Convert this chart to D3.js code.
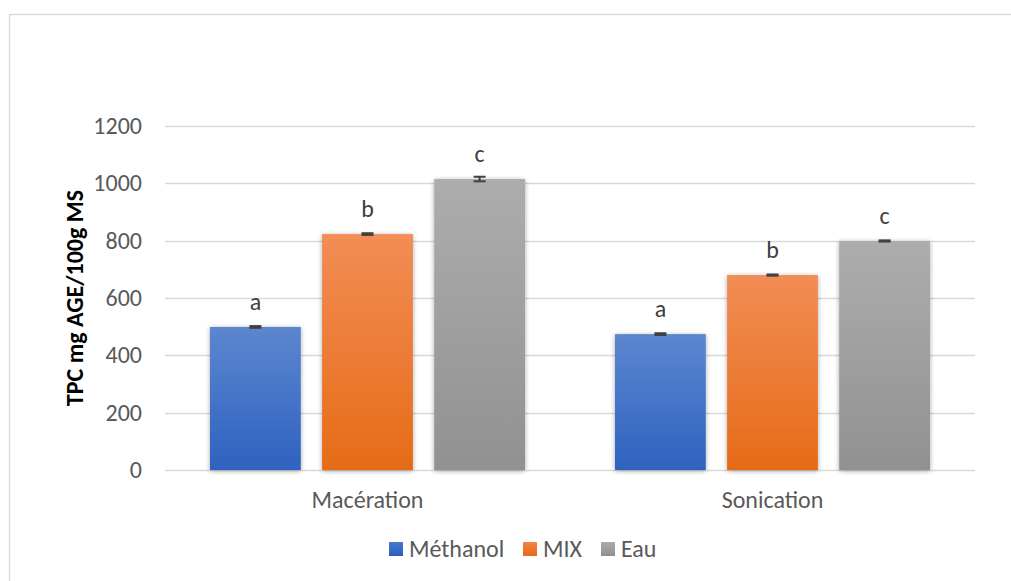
<!DOCTYPE html>
<html>
<head>
<meta charset="utf-8">
<script src="https://cdn.jsdelivr.net/npm/d3@7/dist/d3.min.js"></script>
<style>
html,body{margin:0;padding:0;background:#fff;}
svg{display:block;font-family:Calibri,Carlito,"Open Sans","Liberation Sans",sans-serif;}
</style>
</head>
<body>
<svg id="chart" width="1011" height="581"></svg>
<script>
const categories = ["Macération", "Sonication"];
const seriesNames = ["Méthanol", "MIX", "Eau"];
const methanolValues = [499, 474];
const mixValues = [823, 680];
const eauValues = [1015, 799];
const methanolErrors = [3, 3];
const mixErrors = [3, 2];
const eauErrors = [8, 2];
const letters = [["a", "a"], ["b", "b"], ["c", "c"]];
const yTicks = [0, 200, 400, 600, 800, 1000, 1200];
const yTitle = "TPC mg AGE/100g MS";

(function () {
const values = [methanolValues, mixValues, eauValues];
const errors = [methanolErrors, mixErrors, eauErrors];
const gradients = [["#5c86d0", "#2f62bf"], ["#f28d55", "#e66b17"], ["#adadad", "#919191"]];
const legendColors = [["#4a78cc", "#2c5fbd"], ["#f2854a", "#e56a16"], ["#ababab", "#8f8f8f"]];
const FS = 24;

const svg = d3.select("#chart");
const defs = svg.append("defs");
gradients.forEach((g, i) => {
  const lg = defs.append("linearGradient").attr("id", "grad" + i)
    .attr("x1", 0).attr("y1", 0).attr("x2", 0).attr("y2", 1);
  lg.append("stop").attr("offset", "0%").attr("stop-color", g[0]);
  lg.append("stop").attr("offset", "100%").attr("stop-color", g[1]);
  const lg2 = defs.append("linearGradient").attr("id", "lgrad" + i)
    .attr("x1", 0).attr("y1", 0).attr("x2", 0).attr("y2", 1);
  lg2.append("stop").attr("offset", "0%").attr("stop-color", legendColors[i][0]);
  lg2.append("stop").attr("offset", "100%").attr("stop-color", legendColors[i][1]);
});
const f = defs.append("filter").attr("id", "shadow")
  .attr("x", "-20%").attr("y", "-10%").attr("width", "140%").attr("height", "125%");
f.append("feGaussianBlur").attr("in", "SourceAlpha").attr("stdDeviation", 2.5).attr("result", "b");
f.append("feOffset").attr("in", "b").attr("dx", 0).attr("dy", 1).attr("result", "o");
f.append("feComponentTransfer").attr("in", "o").attr("result", "t")
  .append("feFuncA").attr("type", "linear").attr("slope", 0.35);
const fm = f.append("feMerge");
fm.append("feMergeNode").attr("in", "t");
fm.append("feMergeNode").attr("in", "SourceGraphic");

// chart border
svg.append("path").attr("d", "M9.5,600 L9.5,14.5 L1020,14.5")
  .attr("fill", "none").attr("stroke", "#d9d9d9").attr("stroke-width", 1.3);

const pLeft = 165, pRight = 975, pTop = 126, pBottom = 470;
const y = d3.scaleLinear().domain([0, 1200]).range([pBottom, pTop]);
const x0 = d3.scaleBand().domain(categories).range([pLeft, pRight]).paddingInner(0).paddingOuter(0);
const x1 = d3.scaleBand().domain(seriesNames).range([45, x0.bandwidth() - 45]).paddingInner(0.19).paddingOuter(0);

// gridlines
svg.append("g").selectAll("line").data(yTicks).join("line")
  .attr("x1", pLeft).attr("x2", pRight)
  .attr("y1", d => Math.round(y(d)) + 0.5).attr("y2", d => Math.round(y(d)) + 0.5)
  .attr("stroke", "#d9d9d9").attr("stroke-width", 1.3);

// y tick labels
svg.append("g").selectAll("text").data(yTicks).join("text")
  .attr("x", 142).attr("y", d => y(d)).attr("dy", "0.33em")
  .attr("text-anchor", "end").attr("fill", "#595959").attr("font-size", FS)
  .text(d => d);

// y title
svg.append("text").attr("transform", `translate(83,298) rotate(-90)`)
  .attr("text-anchor", "middle").attr("font-size", FS).attr("font-weight", "bold")
  .attr("fill", "#000").text(yTitle);

// bars
seriesNames.forEach((s, si) => {
  const g = svg.append("g");
  categories.forEach((c, ci) => {
    const bx = x0(c) + x1(s);
    const v = values[si][ci];
    g.append("rect").attr("x", bx).attr("y", y(v)).attr("width", x1.bandwidth())
      .attr("height", y(0) - y(v)).attr("fill", `url(#grad${si})`).attr("filter", "url(#shadow)");
  });
});
// error bars & letters
seriesNames.forEach((s, si) => {
  categories.forEach((c, ci) => {
    const cx = x0(c) + x1(s) + x1.bandwidth() / 2;
    const v = values[si][ci], e = errors[si][ci];
    const eb = svg.append("g").attr("stroke", "#404040").attr("stroke-width", 2);
    eb.append("line").attr("x1", cx - 6).attr("x2", cx + 6).attr("y1", y(v + e)).attr("y2", y(v + e));
    eb.append("line").attr("x1", cx - 6).attr("x2", cx + 6).attr("y1", y(v - e)).attr("y2", y(v - e));
    eb.append("line").attr("x1", cx).attr("x2", cx).attr("y1", y(v + e)).attr("y2", y(v - e));
    svg.append("text").attr("x", cx).attr("y", y(v) - 17)
      .attr("text-anchor", "middle").attr("font-size", FS).attr("fill", "#404040")
      .text(letters[si][ci]);
  });
});

// category labels
svg.append("g").selectAll("text").data(categories).join("text")
  .attr("x", d => x0(d) + x0.bandwidth() / 2).attr("y", 508)
  .attr("text-anchor", "middle").attr("font-size", FS).attr("fill", "#595959")
  .text(d => d);

// legend
const legendX = [389, 523, 601];
seriesNames.forEach((s, i) => {
  svg.append("rect").attr("x", legendX[i]).attr("y", 542).attr("width", 14).attr("height", 14)
    .attr("fill", `url(#lgrad${i})`);
  svg.append("text").attr("x", legendX[i] + 20).attr("y", 557)
    .attr("font-size", FS).attr("fill", "#595959").text(s);
});
})();
</script>
</body>
</html>
